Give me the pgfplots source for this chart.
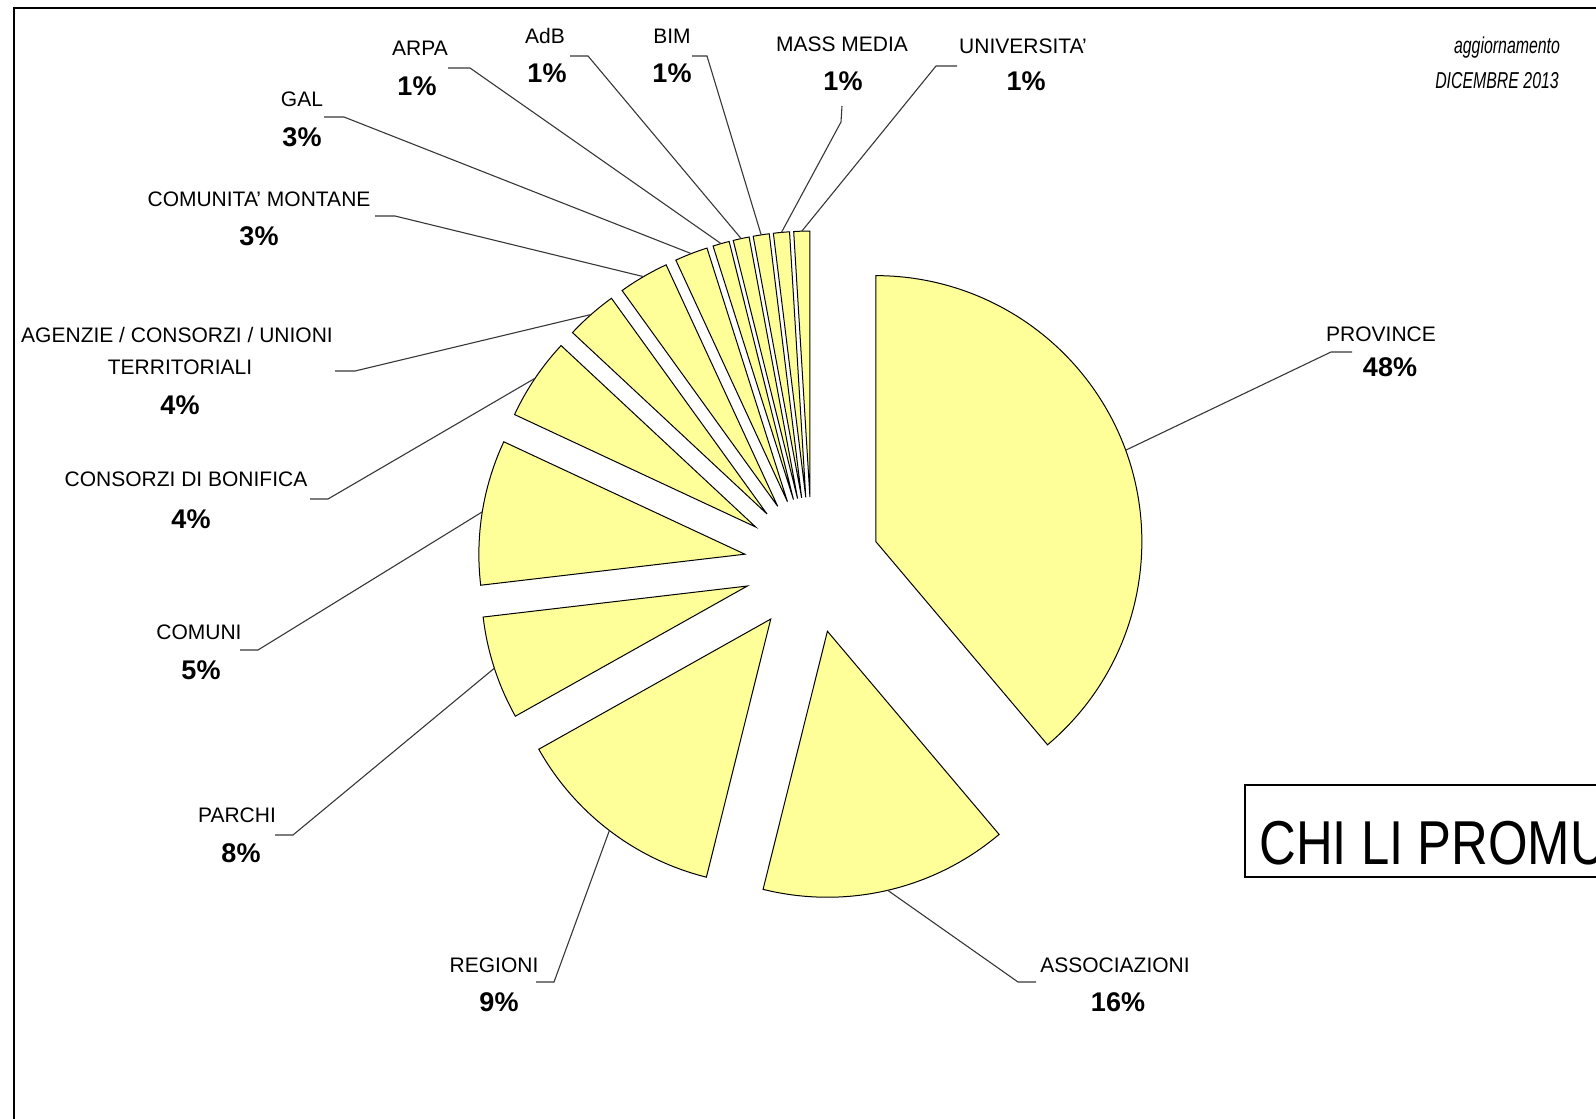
\documentclass[border=0pt]{standalone}
\usepackage{pgfplots}
\pgfplotsset{compat=1.18}
\usepackage{pgfplotstable}
\usepackage{fontspec}
\setmainfont{Liberation Sans}
\newfontfamily\narrowfont[FakeStretch=0.82]{Liberation Sans}
\newfontfamily\narrowital[FakeStretch=0.69]{Liberation Sans Italic}
\definecolor{pieyellow}{RGB}{255,255,153}
\definecolor{leadgray}{RGB}{55,55,55}

% slice widths in degrees, counter-clockwise from 12 o'clock
\pgfplotstableread{
idx name deg
0  UNIVERSITA  3.5
1  MASSMEDIA   3.5
2  BIM         3.5
3  AdB         3.5
4  ARPA        3.6
5  GAL         7.2
6  COMMONTANE  11.0
7  AGENZIE     11.2
8  CONSORZI    18.0
9  COMUNI      31.7
10 PARCHI      22.6
11 REGIONI     46.7
12 ASSOCIAZ    54.2
13 PROVINCE    139.8
}\slices

\def\slicecmds{}
\def\cum{90}
\pgfplotsforeachungrouped \i in {0,...,13}{%
  \pgfplotstablegetelem{\i}{deg}\of\slices
  \pgfmathsetmacro\slA{\cum}%
  \pgfmathsetmacro\slB{\cum+\pgfplotsretval}%
  \pgfmathsetmacro\slM{(\slA+\slB)/2}%
  \pgfmathsetmacro\slVx{812+68*cos(\slM)}%
  \pgfmathsetmacro\slVy{565-68*sin(\slM)}%
  \pgfmathsetmacro\slSx{\slVx+266*cos(\slA)}%
  \pgfmathsetmacro\slSy{\slVy-266*sin(\slA)}%
  \pgfmathsetmacro\slMx{\slVx+266*cos(\slM)}%
  \pgfmathsetmacro\slMy{\slVy-266*sin(\slM)}%
  \expandafter\xdef\csname mx\i\endcsname{\slMx}%
  \expandafter\xdef\csname my\i\endcsname{\slMy}%
  \xdef\slicecmds{\unexpanded\expandafter{\slicecmds}\noexpand\filldraw[slicestyle] (axis cs:\slVx,\slVy) -- (axis cs:\slSx,\slSy) arc[start angle=\slA, end angle=\slB, radius=133pt] -- cycle;}%
  \xdef\cum{\slB}%
}
\newcommand\MP[1]{(axis cs:\csname mx#1\endcsname,\csname my#1\endcsname)}

\begin{document}
\begin{tikzpicture}[
  slicestyle/.style={fill=pieyellow, draw=black, line width=0.5pt, line join=miter},
  leader/.style={draw=leadgray, line width=0.55pt},
  nm/.style={font=\fontsize{10.5}{12}\selectfont, inner sep=0pt, align=center},
  pc/.style={font=\bfseries\fontsize{13.5}{15}\selectfont, inner sep=0pt}
]
\begin{axis}[x=0.5pt, y=0.5pt, xmin=0, xmax=1596, ymin=0, ymax=1119,
  y dir=reverse, hide axis, clip=false]
% frame
\draw[black, line width=1pt] (axis cs:14,1119) -- (axis cs:14,8) -- (axis cs:1600,8);
% slices
\slicecmds
% leader lines
\draw[leader] \MP{0} -- (axis cs:936,66) -- (axis cs:957,66);
\draw[leader] \MP{1} -- (axis cs:841,122) -- (axis cs:842,106);
\draw[leader] \MP{2} -- (axis cs:707,56) -- (axis cs:692,56);
\draw[leader] \MP{3} -- (axis cs:588,56) -- (axis cs:570,56);
\draw[leader] \MP{4} -- (axis cs:470,68) -- (axis cs:448,68);
\draw[leader] \MP{5} -- (axis cs:344,117) -- (axis cs:324,117);
\draw[leader] \MP{6} -- (axis cs:395,216) -- (axis cs:375,216);
\draw[leader] \MP{7} -- (axis cs:355,371) -- (axis cs:335,371);
\draw[leader] \MP{8} -- (axis cs:328,499) -- (axis cs:310,499);
\draw[leader] \MP{9} -- (axis cs:258,650) -- (axis cs:240,650);
\draw[leader] \MP{10} -- (axis cs:293,835) -- (axis cs:275,835);
\draw[leader] \MP{11} -- (axis cs:554,982) -- (axis cs:536,982);
\draw[leader] \MP{12} -- (axis cs:1018,982) -- (axis cs:1036,982);
\draw[leader] \MP{13} -- (axis cs:1331,352) -- (axis cs:1352,352);
% labels
\node[nm] at (axis cs:1023,46) {UNIVERSITA'};
\node[pc] at (axis cs:1026,81) {1\%};
\node[nm] at (axis cs:842,44) {MASS MEDIA};
\node[pc] at (axis cs:843,81) {1\%};
\node[nm] at (axis cs:672,36) {BIM};
\node[pc] at (axis cs:672,73) {1\%};
\node[nm] at (axis cs:545,36) {AdB};
\node[pc] at (axis cs:547,73) {1\%};
\node[nm] at (axis cs:420,48) {ARPA};
\node[pc] at (axis cs:417,86) {1\%};
\node[nm] at (axis cs:302,99) {GAL};
\node[pc] at (axis cs:302,137) {3\%};
\node[nm] at (axis cs:259,199) {COMUNITA' MONTANE};
\node[pc] at (axis cs:259,236) {3\%};
\node[nm] at (axis cs:177,335) {AGENZIE / CONSORZI / UNIONI};
\node[nm] at (axis cs:180,367) {TERRITORIALI};
\node[pc] at (axis cs:180,405) {4\%};
\node[nm] at (axis cs:186,479) {CONSORZI DI BONIFICA};
\node[pc] at (axis cs:191,519) {4\%};
\node[nm] at (axis cs:199,632) {COMUNI};
\node[pc] at (axis cs:201,670) {5\%};
\node[nm] at (axis cs:237,815) {PARCHI};
\node[pc] at (axis cs:241,853) {8\%};
\node[nm] at (axis cs:494,965) {REGIONI};
\node[pc] at (axis cs:499,1002) {9\%};
\node[nm] at (axis cs:1115,965) {ASSOCIAZIONI};
\node[pc] at (axis cs:1118,1002) {16\%};
\node[nm] at (axis cs:1381,334) {PROVINCE};
\node[pc] at (axis cs:1390,367) {48\%};
\node[inner sep=0pt, font=\narrowital\fontsize{11.5}{13}\selectfont] at (axis cs:1507,48) {aggiornamento};
\node[inner sep=0pt, font=\narrowital\fontsize{11.5}{13}\selectfont] at (axis cs:1497,81) {DICEMBRE 2013};
% box
\draw[black, line width=0.6pt] (axis cs:1700,785) -- (axis cs:1245,785) -- (axis cs:1245,877) -- (axis cs:1700,877);
\node[anchor=base west, inner sep=0pt, font=\narrowfont\fontsize{31}{33}\selectfont] at (axis cs:1259,864) {CHI LI PROMUOVONO};
\end{axis}
\pgfresetboundingbox
\path[use as bounding box] (0,0) rectangle (798pt,559.5pt);
\end{tikzpicture}
\end{document}
